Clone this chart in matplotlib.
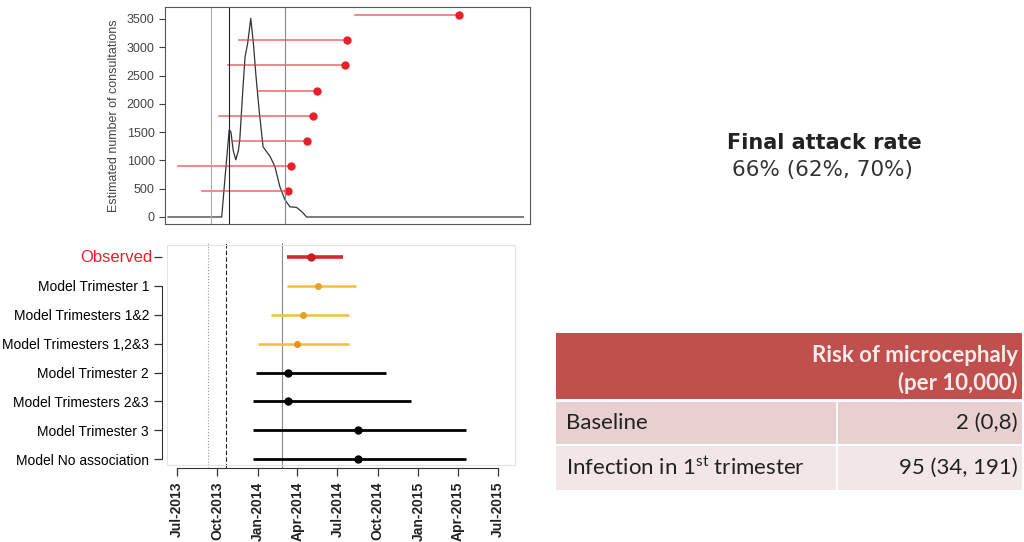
import numpy as np
import pandas as pd
import matplotlib
matplotlib.use("Agg")
import matplotlib.pyplot as plt
import matplotlib.dates as mdates
from matplotlib.patches import Rectangle

plt.rcParams['font.family'] = ['Liberation Sans', 'DejaVu Sans']
plt.rcParams['mathtext.default'] = 'regular'

# epidemic curve (top panel)
curve_dates = ['2013-06-04', '2013-10-04', '2013-10-11', '2013-10-21', '2013-10-25',
               '2013-10-30', '2013-11-05', '2013-11-11', '2013-11-14', '2013-11-21',
               '2013-11-26', '2013-12-02', '2013-12-09', '2013-12-15', '2013-12-21',
               '2013-12-28', '2014-01-06', '2014-01-22', '2014-02-02', '2014-02-13',
               '2014-02-25', '2014-03-08', '2014-03-23', '2014-04-04', '2014-04-15',
               '2015-08-21']
curve_values = [0, 0, 650, 1540, 1500, 1180, 1010, 1180, 1360, 2250, 2830, 3070,
                3510, 3070, 2480, 1890, 1240, 1070, 890, 540, 300, 180, 170, 95, 0, 0]

# red segments on top panel
seg_y = [3570, 3120, 2680, 2230, 1785, 1340, 905, 465]
seg_start = ['2014-08-03', '2013-11-12', '2013-10-18', '2013-12-25',
             '2013-09-28', '2013-10-27', '2013-06-26', '2013-08-20']
seg_end = ['2015-03-27', '2014-07-16', '2014-07-11', '2014-05-09',
           '2014-04-29', '2014-04-16', '2014-03-10', '2014-03-04']

# reference lines
vline_dates = ['2013-09-09', '2013-10-20', '2014-02-25']

# lower panel
row_labels = ['Observed', 'Model Trimester 1', 'Model Trimesters 1&2', 'Model Trimesters 1,2&3',
              'Model Trimester 2', 'Model Trimesters 2&3', 'Model Trimester 3', 'Model No association']
row_low = ['2014-03-08', '2014-03-08', '2014-01-31', '2014-01-01',
           '2013-12-28', '2013-12-21', '2013-12-21', '2013-12-21']
row_mid = ['2014-05-02', '2014-05-18', '2014-04-14', '2014-03-31',
           '2014-03-10', '2014-03-10', '2014-08-17', '2014-08-17']
row_high = ['2014-07-13', '2014-08-12', '2014-07-27', '2014-07-27',
            '2014-10-19', '2014-12-15', '2015-04-19', '2015-04-19']
row_colors = ['#d9262b', '#f2bf3a', '#f2bf3a', '#f2bf3a', 'black', 'black', 'black', 'black']
dot_colors = ['#c81e24', '#e8a020', '#e8a020', '#e89018', 'black', 'black', 'black', 'black']

tick_dates = ['2013-07-01', '2013-10-01', '2014-01-01', '2014-04-01', '2014-07-01',
              '2014-10-01', '2015-01-01', '2015-04-01', '2015-07-01']

header = ['Risk of microcephaly', '(per 10,000)']
table_rows = ['Baseline', 'Infection in 1$^{st}$ trimester']
table_vals = ['2 (0,8)', '95 (34, 191)']

W, H = 1024, 542
fig = plt.figure(figsize=(W / 100, H / 100), dpi=100)

def box(x0, y0, x1, y1):
    return [x0 / W, 1 - y1 / H, (x1 - x0) / W, (y1 - y0) / H]

d = lambda s: pd.to_datetime(s)
dn = lambda s: mdates.date2num(pd.to_datetime(s))

# ---- top panel
ax1 = fig.add_axes(box(165, 7, 530, 224))
ax1.plot(d(curve_dates), curve_values, color='#333333', lw=0.9)
for y, s, e in zip(seg_y, seg_start, seg_end):
    ax1.plot([d(s), d(e)], [y, y], color='#e8383c', lw=1.2, alpha=0.7)
    ax1.plot(d(e), y, 'o', color='#e8202a', ms=5)
for i, v in enumerate(vline_dates):
    ax1.axvline(d(v), color=['#aaaaaa', '#222222', '#888888'][i], lw=0.8)
ax1.set_xlim(d('2013-05-28'), d('2015-09-05'))
ax1.set_ylim(-124, 3712)
ax1.set_yticks([0, 500, 1000, 1500, 2000, 2500, 3000, 3500])
ax1.set_xticks([])
ax1.tick_params(axis='y', labelsize=9, colors='#444444', length=4)
ax1.set_ylabel('Estimated number of consultations', fontsize=9, color='#444444', labelpad=5)
for sp in ax1.spines.values():
    sp.set_color('#555555')
    sp.set_linewidth(0.8)

# faint frame behind lower panel
fig.add_artist(Rectangle((167 / W, 1 - 465 / H), (515 - 167) / W, (465 - 245) / H,
                         transform=fig.transFigure, fill=False, ec='#e4e4e4', lw=0.8))

# ---- lower panel
ax2 = fig.add_axes(box(165, 243, 530, 468))
ypos = np.arange(len(row_labels))
for i, v in enumerate(vline_dates):
    ax2.axvline(d(v), color=['#999999', '#222222', '#888888'][i],
                ls=[':', (0, (4, 2)), '-'][i], lw=0.8)
for i in range(len(row_labels)):
    lw = 2.6 if i == 0 else (1.8 if i < 4 else 2.0)
    ax2.plot([d(row_low[i]), d(row_high[i])], [i, i], color=row_colors[i], lw=lw, solid_capstyle='butt')
    ax2.plot(d(row_mid[i]), i, 'o', color=dot_colors[i], ms=5 if i in (0, 4, 5, 6, 7) else 4)
ax2.set_xlim(d('2013-06-04'), d('2015-09-12'))
ax2.set_ylim(7.31, -0.49)
ax2.set_xticks(d(tick_dates))
ax2.xaxis.set_major_formatter(mdates.DateFormatter('%b-%Y'))
ax2.tick_params(axis='both', length=6, width=0.9, color='#333333')
ax2.tick_params(axis='x', pad=4)
ax2.set_yticks(ypos)
# the first (Observed) label is drawn separately in red
ax2.set_yticklabels([''] + row_labels[1:], fontsize=7, color='#333333')
ax2.annotate(row_labels[0], xy=(0, 0), xycoords=('axes fraction', 'data'),
             xytext=(-9, 0), textcoords='offset points', ha='right', va='center',
             color='#e8202a', fontsize=12)
plt.setp(ax2.get_xticklabels(), rotation=90, fontsize=10, fontweight='bold', color='#222222')
for sp in ['top', 'right']:
    ax2.spines[sp].set_visible(False)
ax2.spines['left'].set_position(('outward', 2))
ax2.spines['left'].set_bounds(1, 7)
ax2.spines['bottom'].set_bounds(dn('2013-07-01'), dn('2015-07-01'))
ax2.spines['bottom'].set_color('#333333')
ax2.spines['left'].set_color('#333333')

# ---- right side text
fig.text(727 / W, 1 - 143 / H, 'Final attack rate', fontsize=15, fontweight='bold',
         color='#222222', va='center', ha='left', family=['DejaVu Sans'])
fig.text(732 / W, 1 - 170 / H, '66% (62%, 70%)', fontsize=15.5, color='#333333',
         va='center', ha='left', family=['DejaVu Sans'])

# ---- table
tfont = ['Lato', 'DejaVu Sans']
fig.add_artist(Rectangle((556 / W, 1 - 399 / H), (1022 - 556) / W, (399 - 333) / H,
                         transform=fig.transFigure, color='#c0504d', lw=0))
fig.add_artist(Rectangle((556 / W, 1 - 444 / H), (1022 - 556) / W, (444 - 402) / H,
                         transform=fig.transFigure, color='#e8d0d1', lw=0))
fig.add_artist(Rectangle((556 / W, 1 - 490 / H), (1022 - 556) / W, (490 - 446) / H,
                         transform=fig.transFigure, color='#f3e6e6', lw=0))
fig.add_artist(plt.Line2D([837 / W, 837 / W], [1 - 490 / H, 1 - 402 / H],
                          transform=fig.transFigure, color='white', lw=1.2))
for j, t in enumerate(header):
    fig.text(1018 / W, 1 - (355 + 28 * j) / H, t, fontsize=16, fontweight='bold',
             color='#fbecec', ha='right', va='center', family=tfont)
for j, (t, v) in enumerate(zip(table_rows, table_vals)):
    yy = 1 - (423 + 45 * j) / H
    fig.text(566 / W, yy, t, fontsize=16, color='#222222', ha='left', va='center', family=tfont)
    fig.text(1018 / W, yy, v, fontsize=16, color='#222222', ha='right', va='center', family=tfont)

fig.savefig('out.png', dpi=100)
